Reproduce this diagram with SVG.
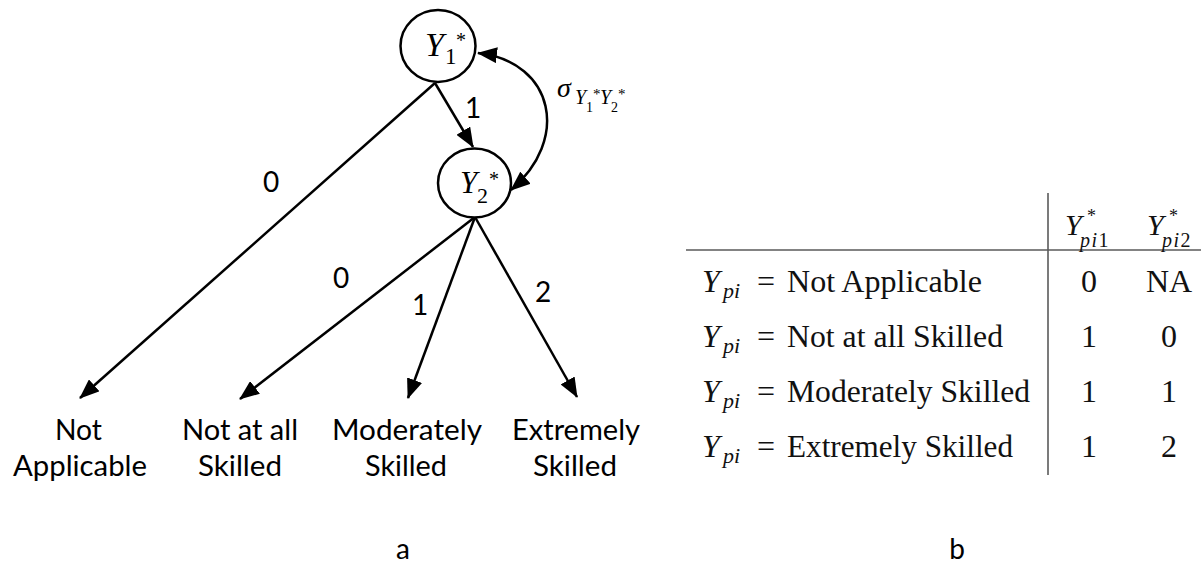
<svg xmlns="http://www.w3.org/2000/svg" width="1201" height="563" viewBox="0 0 1201 563">
<style>
.node{fill:#fff;stroke:#000;stroke-width:2.5}
.edge{fill:none;stroke:#000;stroke-width:2.5}
.lbl{font-family:Lato,"Liberation Sans",sans-serif;font-size:28px;fill:#000;text-anchor:middle}
.m{font-family:"Liberation Serif",serif;fill:#000}
.it{font-style:italic}
.up{font-style:normal}
.tb{font-family:"Liberation Serif",serif;fill:#111;font-size:32px}
.rule{stroke:#5a5a5a;stroke-width:1.6}
</style>
<defs>
<marker id="ah" viewBox="0 0 20 16" refX="19" refY="8" markerWidth="20" markerHeight="16" markerUnits="userSpaceOnUse" orient="auto-start-reverse">
<path d="M0,0 L20,8 L0,16 z" fill="#000"/>
</marker>
</defs>
<rect width="1201" height="563" fill="#fff"/>

<g id="connectors">
<line class="edge" x1="435" y1="83" x2="473" y2="147" marker-end="url(#ah)"/>
<line class="edge" x1="435" y1="83" x2="80" y2="398" marker-end="url(#ah)"/>
<line class="edge" x1="475" y1="217" x2="240" y2="399" marker-end="url(#ah)"/>
<line class="edge" x1="475" y1="217" x2="408" y2="398" marker-end="url(#ah)"/>
<line class="edge" x1="475" y1="217" x2="577" y2="397" marker-end="url(#ah)"/>
<path class="edge" d="M478,53 C555,62 570,140 511,190" marker-start="url(#ah)" marker-end="url(#ah)"/>
<text class="lbl" x="473" y="118">1</text>
<text class="lbl" x="271" y="192">0</text>
<text class="lbl" x="341" y="288">0</text>
<text class="lbl" x="420" y="315">1</text>
<text class="lbl" x="543" y="302">2</text>
<text class="m it"><tspan x="557" y="97" font-size="28">σ</tspan><tspan x="575" y="104" font-size="20">Y</tspan><tspan class="up" x="586" y="112" font-size="14">1</tspan><tspan class="up" x="593" y="99" font-size="15">*</tspan><tspan x="600" y="104" font-size="20">Y</tspan><tspan class="up" x="611" y="112" font-size="14">2</tspan><tspan class="up" x="618" y="99" font-size="15">*</tspan></text>
</g>

<g id="Y1">
<ellipse class="node" cx="438" cy="46" rx="37.5" ry="36"/>
<text class="m it"><tspan x="425" y="56" font-size="34">Y</tspan><tspan class="up" x="445" y="64" font-size="23">1</tspan><tspan class="up" x="456" y="47" font-size="20">*</tspan></text>
</g>
<g id="Y2">
<ellipse class="node" cx="474.5" cy="183" rx="36.5" ry="34.5"/>
<text class="m it"><tspan x="460" y="193" font-size="31">Y</tspan><tspan class="up" x="477" y="203" font-size="22">2</tspan><tspan class="up" x="489" y="186" font-size="20">*</tspan></text>
</g>

<g id="out-na">
<text class="lbl" x="78.5" y="440" textLength="47" lengthAdjust="spacingAndGlyphs">Not</text>
<text class="lbl" x="80" y="476" textLength="134" lengthAdjust="spacingAndGlyphs">Applicable</text>
</g>
<g id="out-not">
<text class="lbl" x="240" y="440" textLength="116" lengthAdjust="spacingAndGlyphs">Not at all</text>
<text class="lbl" x="240" y="476" textLength="84" lengthAdjust="spacingAndGlyphs">Skilled</text>
</g>
<g id="out-mod">
<text class="lbl" x="407" y="440" textLength="150" lengthAdjust="spacingAndGlyphs">Moderately</text>
<text class="lbl" x="406" y="476" textLength="82" lengthAdjust="spacingAndGlyphs">Skilled</text>
</g>
<g id="out-ext">
<text class="lbl" x="576" y="440" textLength="128" lengthAdjust="spacingAndGlyphs">Extremely</text>
<text class="lbl" x="575" y="476" textLength="84" lengthAdjust="spacingAndGlyphs">Skilled</text>
</g>

<g id="caption-a"><text class="lbl" x="403" y="559">a</text></g>
<g id="caption-b"><text class="lbl" x="957" y="559">b</text></g>

<g id="table">
<line class="rule" x1="686" y1="250" x2="1201" y2="250"/>
<line class="rule" x1="1048" y1="193" x2="1048" y2="475"/>
<g id="header">
<text class="tb it"><tspan x="1065" y="235" font-size="30">Y</tspan><tspan class="up" x="1087" y="222" font-size="18">*</tspan><tspan x="1080" y="247" font-size="20" letter-spacing="1.5">pi</tspan><tspan class="up" font-size="20">1</tspan></text>
<text class="tb it"><tspan x="1147" y="235" font-size="30">Y</tspan><tspan class="up" x="1169" y="222" font-size="18">*</tspan><tspan x="1162" y="247" font-size="20" letter-spacing="1.5">pi</tspan><tspan class="up" font-size="20">2</tspan></text>
</g>
<g id="row1">
<text class="tb"><tspan class="it" x="702" y="292">Y</tspan><tspan class="it" x="723" y="298" font-size="22">pi</tspan><tspan x="757" y="292">=</tspan></text>
<text class="tb" x="787" y="292" textLength="195" lengthAdjust="spacingAndGlyphs">Not Applicable</text>
<text class="tb" x="1089" y="292" text-anchor="middle">0</text>
<text class="tb" x="1169" y="292" text-anchor="middle">NA</text>
</g>
<g id="row2">
<text class="tb"><tspan class="it" x="702" y="347">Y</tspan><tspan class="it" x="723" y="353" font-size="22">pi</tspan><tspan x="757" y="347">=</tspan></text>
<text class="tb" x="787" y="347" textLength="216" lengthAdjust="spacingAndGlyphs">Not at all Skilled</text>
<text class="tb" x="1089" y="347" text-anchor="middle">1</text>
<text class="tb" x="1169" y="347" text-anchor="middle">0</text>
</g>
<g id="row3">
<text class="tb"><tspan class="it" x="702" y="402">Y</tspan><tspan class="it" x="723" y="408" font-size="22">pi</tspan><tspan x="757" y="402">=</tspan></text>
<text class="tb" x="787" y="402" textLength="243" lengthAdjust="spacingAndGlyphs">Moderately Skilled</text>
<text class="tb" x="1089" y="402" text-anchor="middle">1</text>
<text class="tb" x="1169" y="402" text-anchor="middle">1</text>
</g>
<g id="row4">
<text class="tb"><tspan class="it" x="702" y="457">Y</tspan><tspan class="it" x="723" y="463" font-size="22">pi</tspan><tspan x="757" y="457">=</tspan></text>
<text class="tb" x="787" y="457" textLength="226" lengthAdjust="spacingAndGlyphs">Extremely Skilled</text>
<text class="tb" x="1089" y="457" text-anchor="middle">1</text>
<text class="tb" x="1169" y="457" text-anchor="middle">2</text>
</g>
</g>
</svg>
